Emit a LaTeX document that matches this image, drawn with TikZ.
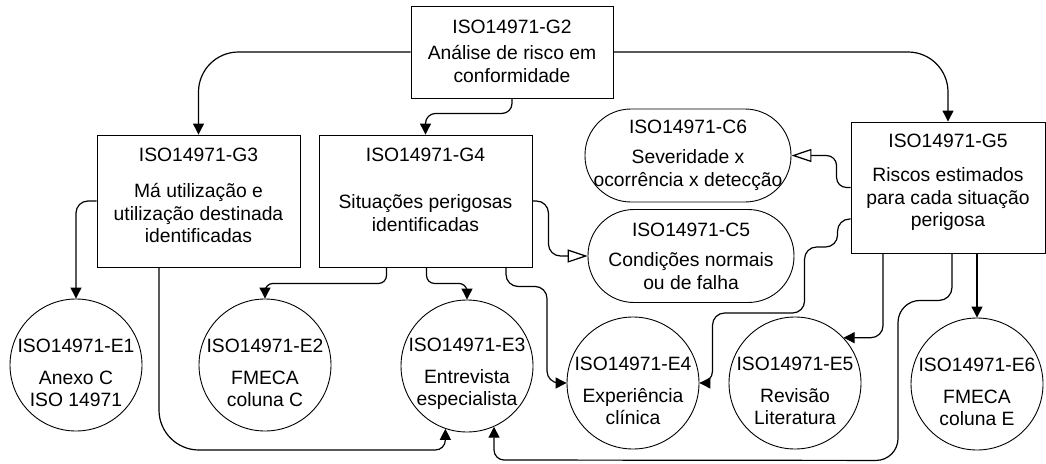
\documentclass[tikz,border=0pt]{standalone}
\usepackage{fontspec}
\setmainfont{Liberation Sans}
\usetikzlibrary{arrows.meta,shapes.misc}
\begin{document}
\begin{tikzpicture}[x=1pt,y=-1pt,
  box/.style={draw, line width=0.9pt, fill=white, inner sep=0pt},
  ecirc/.style={circle, draw, line width=0.9pt, fill=white, minimum size=132pt, inner sep=0pt},
  pill/.style={rectangle, rounded corners=46pt, draw, line width=0.9pt, fill=white, minimum width=206pt, minimum height=93pt, inner sep=0pt, align=center, font=\fontsize{19.3}{23}\selectfont},
  txt/.style={align=center, inner sep=0pt, font=\fontsize{19.3}{22.5}\selectfont},
  conn/.style={draw, line width=1.2pt, -{Triangle[length=11pt,width=11pt]}},
  oconn/.style={draw, line width=1.2pt, -{Triangle[open,length=20pt,width=13pt]}},
]
\useasboundingbox (0,0) rectangle (1046,463);
\coordinate (b1) at (0,450);
\coordinate (b2) at (0,460);

% boxes
\node[box, minimum width=202pt, minimum height=92pt] (g2) at (512,52) {};
\node[txt] (g2t) at ([yshift=-21pt]g2.north) {ISO14971-G2};
\node[txt] (g2b) at ([yshift=-12pt]g2.center) {Análise de risco em\\conformidade};

\node[box, minimum width=203pt, minimum height=132pt] (g3) at (198.5,201) {};
\node[txt] (g3t) at ([yshift=-20pt]g3.north) {ISO14971-G3};
\node[txt] (g3b) at ([yshift=-12pt]g3.center) {Má utilização e\\utilização destinada\\identificadas};

\node[box, minimum width=213pt, minimum height=132pt] (g4) at (425.5,201) {};
\node[txt] (g4t) at ([yshift=-20pt]g4.north) {ISO14971-G4};
\node[txt] (g4b) at ([yshift=-12pt]g4.center) {Situações perigosas\\identificadas};

\node[box, minimum width=194pt, minimum height=131pt] (g5) at (948,187.5) {};
\node[txt] (g5t) at ([yshift=-19pt]g5.north) {ISO14971-G5};
\node[txt] (g5b) at ([yshift=-12pt]g5.center) {Riscos estimados\\para cada situação\\perigosa};

% pills
\node[pill] (c6) at (688,155.5) {ISO14971-C6\\[7pt]Severidade x\\ocorrência x detecção};
\node[pill] (c5) at (691,256) {ISO14971-C5\\[7pt]Condições normais\\ou de falha};

% circles
\node[ecirc] (e1) at (76,365) {};
\node[ecirc] (e2) at (265,365) {};
\node[ecirc] (e3) at (467,366) {};
\node[ecirc] (e4) at (633,383) {};
\node[ecirc] (e5) at (795,383) {};
\node[ecirc] (e6) at (977,384) {};
\node[txt] (e1t) at ([yshift=-8pt]e1.center) {ISO14971-E1\\[9pt]Anexo C\\ISO 14971};
\node[txt] (e2t) at ([yshift=-8pt]e2.center) {ISO14971-E2\\[9pt]FMECA\\coluna C};
\node[txt] (e3t) at ([yshift=-8pt]e3.center) {ISO14971-E3\\[9pt]Entrevista\\especialista};
\node[txt] (e4t) at ([yshift=-8pt]e4.center) {ISO14971-E4\\[9pt]Experiência\\clínica};
\node[txt] (e5t) at ([yshift=-8pt]e5.center) {ISO14971-E5\\[9pt]Revisão\\Literatura};
\node[txt] (e6t) at ([yshift=-8pt]e6.center) {ISO14971-E6\\[9pt]FMECA\\coluna E};

% connectors
\draw[conn, rounded corners=40pt] (g2.west) -| (g3.north);
\draw[conn, rounded corners=10pt] (g2.south) -- ++(0,15) -| (g4.north);
\draw[conn, rounded corners=40pt] (g2.east) -| (g5.north);
\draw[conn, rounded corners=12pt] (g3.west) -| (e1.north);
\draw[conn] ([xshift=-39.5pt]g3.south) [rounded corners=40pt] -- ([xshift=-39.5pt]g3.south |- b1) [rounded corners=10pt] -- (e3.251 |- b1) -- (e3.251);
\draw[conn, rounded corners=8pt] ([xshift=-39pt]g4.south) -- ++(0,16) -| (e2.north);
\draw[conn, rounded corners=8pt] ([xshift=1pt]g4.south) -- ++(0,16) -| (e3.north);
\draw[conn, rounded corners=12pt] ([xshift=80.5pt]g4.south) -- ++(0,19) -- ++(41,0) |- (e4.west);
\draw[oconn, rounded corners=12pt] (g4.east) -- ++(16,0) |- (c5.west);
\draw[oconn, rounded corners=10pt] (g5.west) -- ++(-14,0) |- (c6.east);
\draw[conn, rounded corners=12pt] ([yshift=-31.5pt]g5.west) -- ++(-13,0) -- ++(0,28) -- ++(-33,0) -- ++(0,66) -- ++(-92,0) |- (e4.east);
\draw[conn, rounded corners=12pt] ([xshift=-65pt]g5.south) |- (e5.43);
\draw[conn] ([xshift=4pt]g5.south) [rounded corners=13pt] -- ++(0,47) [rounded corners=22pt] -- ++(-54,0) -- ++(0,160) [rounded corners=10pt] -- (e3.294 |- b2) -- (e3.294);
\draw[conn] (g5.south -| e6.north) -- (e6.north);
\end{tikzpicture}
\end{document}
